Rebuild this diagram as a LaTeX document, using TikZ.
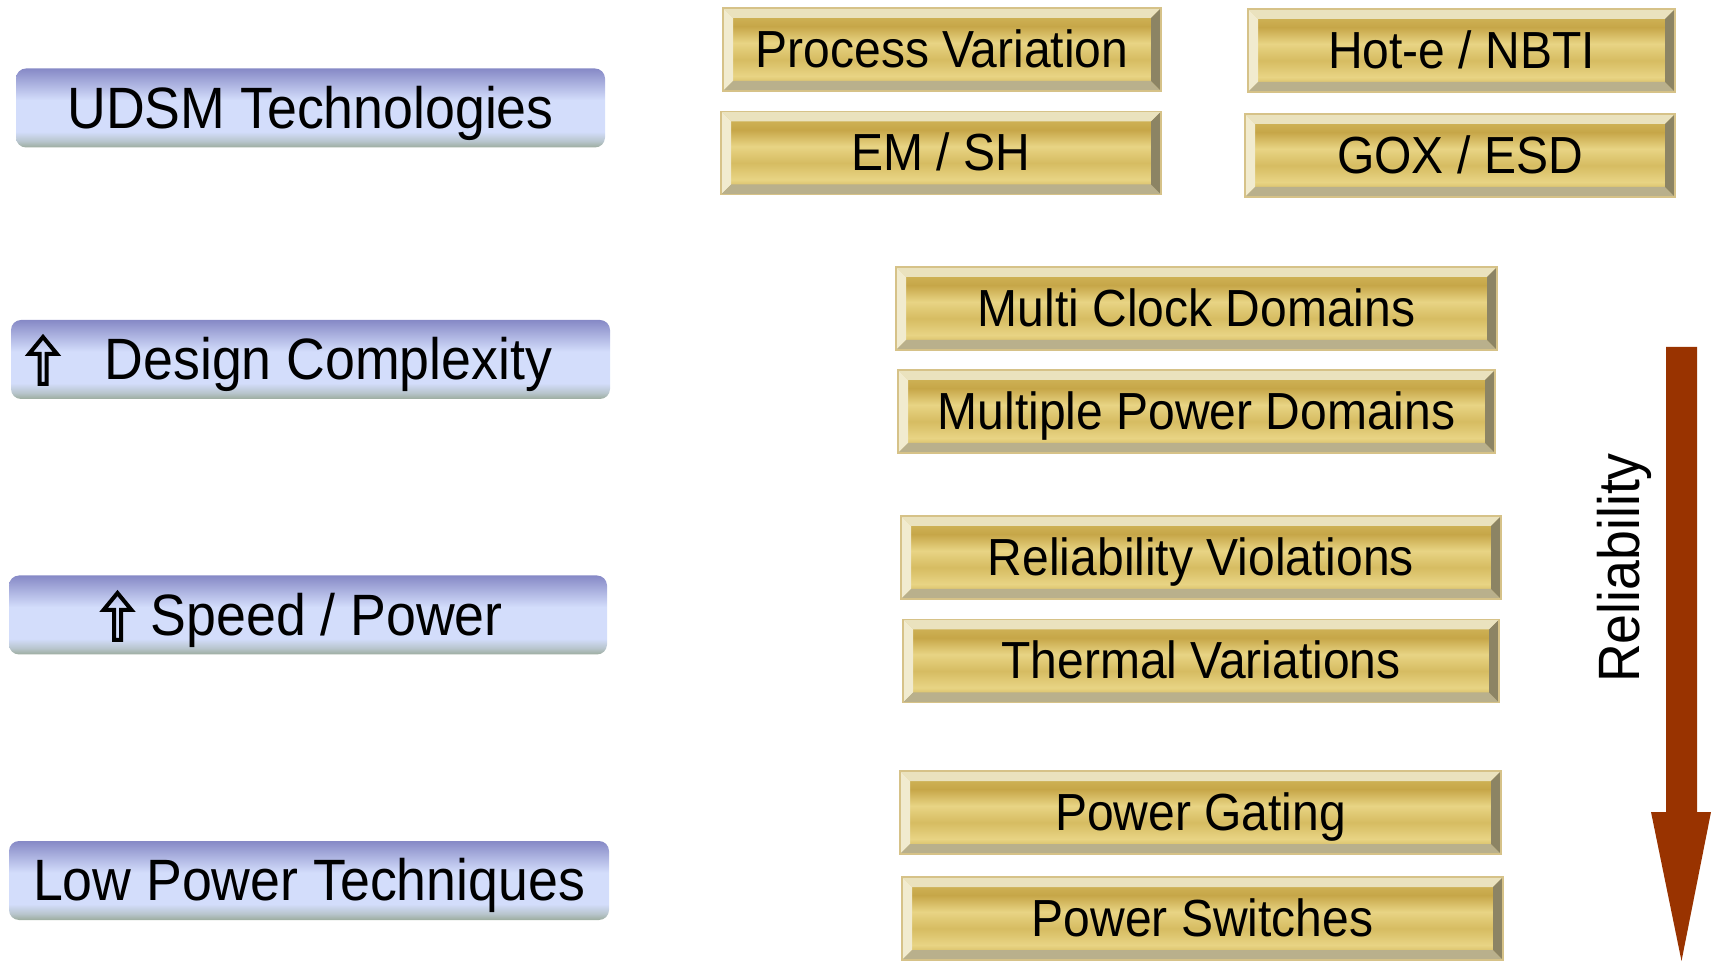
\documentclass[tikz,border=0pt]{standalone}
\usepackage{fontspec}
\setmainfont{Liberation Sans}[FakeStretch=0.92]
\usepackage{tikz}
\usetikzlibrary{
    calc
}
\definecolor{btop}{RGB}{134,137,198}
\definecolor{blight}{RGB}{211,221,251}
\definecolor{bmix}{RGB}{184,197,205}
\definecolor{bbot}{RGB}{156,172,158}
\definecolor{gdark}{RGB}{198,166,72}
\definecolor{glight}{RGB}{232,212,132}
\definecolor{gmid}{RGB}{214,188,98}
\definecolor{goldedge}{RGB}{214,194,136}
\definecolor{bevtop}{RGB}{234,226,190}
\definecolor{bevleft}{RGB}{241,235,207}
\definecolor{bevbot}{RGB}{185,176,140}
\definecolor{bevright}{RGB}{140,132,100}
\definecolor{relred}{RGB}{153,51,0}
\pgfdeclareverticalshading{bluebar}{100bp}{color(0bp)=(bbot); color(25bp)=(bbot); color(29bp)=(bmix); color(35bp)=(blight); color(55bp)=(blight); color(75bp)=(btop); color(100bp)=(btop)}
\pgfdeclareverticalshading{goldbar}{100bp}{color(0bp)=(gdark); color(25bp)=(gdark); color(34bp)=(glight); color(44bp)=(gmid); color(54bp)=(glight); color(64bp)=(gdark); color(75bp)=(gmid); color(100bp)=(gmid)}
\newcommand{\bluefont}{\fontsize{16.6pt}{18pt}\selectfont}
\newcommand{\goldfont}{\fontsize{14.85pt}{16pt}\selectfont}
\tikzset{
    bluebox/.style={shade, shading=bluebar, rounded corners=0.1cm,
        minimum width=#1, minimum height=0.79cm, inner sep=0pt,
        font=\bluefont, text height=11.4pt, text depth=0pt},
    bluetext/.style={inner sep=0pt, font=\bluefont, text height=11.4pt, text depth=0pt},
    goldbox/.style={shade, shading=goldbar, draw=goldedge, line width=0.4pt,
        minimum width=#1, minimum height=0.83cm, inner sep=0pt,
        font=\goldfont, text height=10.2pt, text depth=0pt,
        path picture={
            \coordinate (gnw) at (path picture bounding box.north west);
            \coordinate (gne) at (path picture bounding box.north east);
            \coordinate (gsw) at (path picture bounding box.south west);
            \coordinate (gse) at (path picture bounding box.south east);
            \fill[bevtop] (gnw) -- (gne) -- ($(gne)+(-10,-10)$) -- ($(gnw)+(10,-10)$) -- cycle;
            \fill[bevleft] (gnw) -- (gsw) -- ($(gsw)+(10,10)$) -- ($(gnw)+(10,-10)$) -- cycle;
            \fill[bevbot] (gsw) -- (gse) -- ($(gse)+(-10,10)$) -- ($(gsw)+(10,10)$) -- cycle;
            \fill[bevright] (gne) -- (gse) -- ($(gse)+(-10,10)$) -- ($(gne)+(-10,-10)$) -- cycle;
        }},
    hollowup/.style={draw=black, line width=0.04cm, line join=miter},
}

\begin{document}
\begin{tikzpicture}[x=0.1mm, y=0.1mm]
\useasboundingbox (0,0) rectangle (1713,963);

%% left column
\node[bluebox=5.89cm] (udsm) at (310.5,855) {UDSM Technologies};
\node[bluebox=5.99cm] (design) at (310.5,603.5) {};
\node[bluebox=5.98cm] (speed) at (308,348) {};
\node[bluebox=6.00cm] (lowpower) at (309,82.5) {Low Power Techniques};

\node[bluetext, anchor=west] (designtxt) at (104,603.5) {Design Complexity};
\node[bluetext, anchor=west] (speedtxt) at (150,348) {Speed / Power};

\draw[hollowup] (43,626) -- ++(14,-17) -- ++(-10.5,0) -- ++(0,-30) -- ++(-7,0) -- ++(0,30) -- ++(-10.5,0) -- cycle;
\draw[hollowup] (117.5,370) -- ++(14,-17) -- ++(-10.5,0) -- ++(0,-30) -- ++(-7,0) -- ++(0,30) -- ++(-10.5,0) -- cycle;

%% top right
\node[goldbox=4.38cm] (procvar) at (942,913.5) {Process Variation};
\node[goldbox=4.40cm] (emsh) at (941,810) {EM / SH};
\node[goldbox=4.27cm] (hotnbti) at (1461.5,912.5) {Hot-e / NBTI};
\node[goldbox=4.30cm] (goxesd) at (1460,807.5) {GOX / ESD};

%% middle
\node[goldbox=6.01cm] (multiclock) at (1196.5,654.5) {Multi Clock Domains};
\node[goldbox=5.97cm] (multipower) at (1196.5,551.5) {Multiple Power Domains};
\node[goldbox=6.00cm] (relviol) at (1201,405.5) {Reliability Violations};
\node[goldbox=5.96cm] (thermal) at (1201,302) {Thermal Variations};
\node[goldbox=6.01cm] (gating) at (1200.5,150.5) {Power Gating};
\node[goldbox=6.01cm] (switches) at (1202.5,44.5) {Power Switches};

%% reliability arrow
\coordinate (reltop) at (1681.5,616);
\coordinate (reltip) at (1681.5,2);
\fill[relred] ($(reltop)+(-15.5,0)$) -- ($(reltop)+(15.5,0)$) -- ($(reltip)+(15.5,149)$)
    -- ($(reltip)+(29.5,149)$) -- (reltip) -- ($(reltip)+(-30.5,149)$) -- ($(reltip)+(-15.5,149)$) -- cycle;
\node[bluetext, rotate=90] (reltxt) at (1619,395) {Reliability};
\end{tikzpicture}
\end{document}
